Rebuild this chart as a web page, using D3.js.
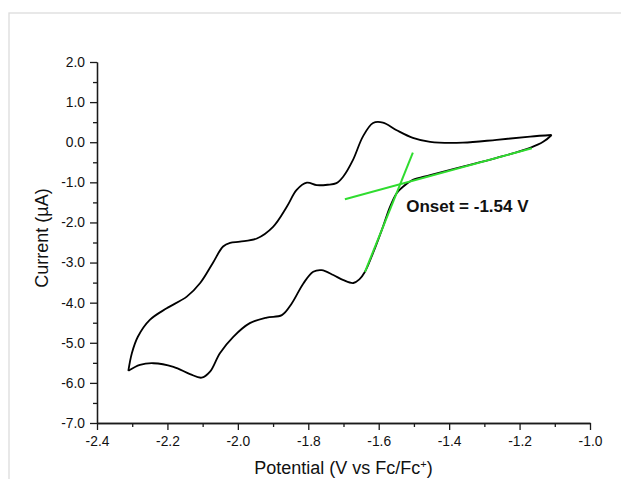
<!DOCTYPE html>
<html>
<head>
<meta charset="utf-8">
<script src="https://cdn.jsdelivr.net/npm/d3@7"></script>
<style>
  html, body { margin: 0; padding: 0; background: #fff; }
  svg { display: block; font-family: Arial, "Liberation Sans", sans-serif; }
</style>
</head>
<body>
<div id="chart"></div>
<script>
"use strict";

// forward scan, right vertex -> left vertex (potential V, current uA)
const upperScan = [
  [-1.109, 0.18], [-1.170, 0.14], [-1.265, 0.06], [-1.361, -0.01], [-1.454, 0.01],
  [-1.503, 0.11], [-1.549, 0.30], [-1.588, 0.49], [-1.616, 0.48], [-1.645, 0.14],
  [-1.673, -0.44], [-1.701, -0.86], [-1.720, -1.02], [-1.745, -1.06], [-1.776, -1.07],
  [-1.804, -1.01], [-1.833, -1.19], [-1.861, -1.61], [-1.900, -2.11], [-1.946, -2.40],
  [-1.994, -2.48], [-2.022, -2.51], [-2.042, -2.60], [-2.071, -3.01], [-2.107, -3.51],
  [-2.145, -3.85], [-2.202, -4.14], [-2.250, -4.43], [-2.284, -4.85], [-2.301, -5.26],
  [-2.311, -5.70]
];

// return scan, left vertex -> right vertex
const lowerScan = [
  [-2.311, -5.70], [-2.278, -5.55], [-2.240, -5.51], [-2.183, -5.60], [-2.136, -5.78],
  [-2.103, -5.87], [-2.079, -5.72], [-2.051, -5.26], [-2.013, -4.85], [-1.966, -4.51],
  [-1.918, -4.37], [-1.875, -4.31], [-1.847, -4.02], [-1.814, -3.52], [-1.786, -3.23],
  [-1.762, -3.19], [-1.729, -3.31], [-1.700, -3.44], [-1.672, -3.51], [-1.655, -3.42],
  [-1.639, -3.23], [-1.616, -2.76], [-1.588, -2.11], [-1.568, -1.61], [-1.549, -1.27],
  [-1.531, -1.11], [-1.503, -0.94], [-1.454, -0.82], [-1.361, -0.61], [-1.265, -0.39],
  [-1.170, -0.14], [-1.133, 0.01], [-1.109, 0.18]
];

// tangent lines used for the onset estimate
const baseLine = [[-1.696, -1.42], [-1.165, -0.15]];
const riseLine = [[-1.503, -0.26], [-1.639, -3.23]];

const xTicks = [-2.4, -2.2, -2.0, -1.8, -1.6, -1.4, -1.2, -1.0];
const xMinorTicks = [-2.3, -2.1, -1.9, -1.7, -1.5, -1.3, -1.1];
const yTicks = [2, 1, 0, -1, -2, -3, -4, -5, -6, -7];
const yMinorTicks = [1.5, 0.5, -0.5, -1.5, -2.5, -3.5, -4.5, -5.5, -6.5];

const onsetLabel = "Onset = -1.54 V";
const onsetAt = [-1.522, -1.73];

const msm = {
  width: 621,
  height: 479,
  marginLeft: 97,
  marginTop: 62,
  marginRight: 31,
  marginBottom: 56
};

const svg = d3.select("#chart")
  .append("svg")
  .attr("width", msm.width)
  .attr("height", msm.height);

// faint frame of the surrounding panel
svg.append("rect")
  .attr("x", 9)
  .attr("y", 13)
  .attr("width", 800)
  .attr("height", 800)
  .attr("fill", "none")
  .attr("stroke", "#dcdcdc")
  .attr("stroke-width", 1.3);

const xScale = d3.scaleLinear()
  .domain([-2.4, -1.0])
  .range([msm.marginLeft, msm.width - msm.marginRight]);

const yScale = d3.scaleLinear()
  .domain([-7, 2])
  .range([msm.height - msm.marginBottom, msm.marginTop]);

const fmt = d => d.toFixed(1);

// x axis: minor then major ticks
const xAxisG = svg.append("g")
  .attr("transform", "translate(0," + (msm.height - msm.marginBottom) + ")");
xAxisG.append("g")
  .call(d3.axisBottom(xScale).tickValues(xMinorTicks).tickSize(4).tickSizeOuter(0).tickFormat(""));
xAxisG.append("g")
  .call(d3.axisBottom(xScale).tickValues(xTicks).tickSize(7).tickSizeOuter(0).tickPadding(6).tickFormat(fmt));

// y axis
const yAxisG = svg.append("g")
  .attr("transform", "translate(" + msm.marginLeft + ",0)");
yAxisG.append("g")
  .call(d3.axisLeft(yScale).tickValues(yMinorTicks).tickSize(4).tickSizeOuter(0).tickFormat(""));
yAxisG.append("g")
  .call(d3.axisLeft(yScale).tickValues(yTicks).tickSize(7).tickSizeOuter(0).tickPadding(5).tickFormat(fmt));

svg.selectAll(".domain, .tick line")
  .attr("stroke", "#1a1a1a")
  .attr("stroke-width", 1.3);
svg.selectAll(".tick text")
  .attr("fill", "#111")
  .style("font-size", "13.8px")
  .style("font-family", "Arial, 'Liberation Sans', sans-serif");

// axis titles
svg.append("text")
  .attr("transform", "translate(48," + 238 + ") rotate(-90)")
  .attr("text-anchor", "middle")
  .style("font-size", "18px")
  .attr("fill", "#111")
  .text("Current (µA)");

// sits low like the original, but kept fully inside the page
const xTitle = svg.append("text")
  .attr("x", (xScale(-2.4) + xScale(-1.0)) / 2)
  .attr("y", 474)
  .attr("text-anchor", "middle")
  .style("font-size", "18px")
  .attr("fill", "#111");
xTitle.append("tspan").text("Potential (V vs Fc/Fc");
xTitle.append("tspan").attr("baseline-shift", "super").style("font-size", "11px").text("+");
xTitle.append("tspan").text(")");

const line = d3.line()
  .x(d => xScale(d[0]))
  .y(d => yScale(d[1]))
  .curve(d3.curveCatmullRom.alpha(0.5));

// voltammogram
[upperScan, lowerScan].forEach(scan => {
  svg.append("path")
    .datum(scan)
    .attr("d", line)
    .attr("fill", "none")
    .attr("stroke", "#000")
    .attr("stroke-width", 1.8)
    .attr("stroke-linejoin", "round");
});

// tangent lines
const straight = d3.line()
  .x(d => xScale(d[0]))
  .y(d => yScale(d[1]));

[baseLine, riseLine].forEach(seg => {
  svg.append("path")
    .datum(seg)
    .attr("d", straight)
    .attr("fill", "none")
    .attr("stroke", "#2fdc2f")
    .attr("stroke-width", 2);
});

svg.append("text")
  .attr("x", xScale(onsetAt[0]))
  .attr("y", yScale(onsetAt[1]))
  .style("font-size", "17px")
  .style("font-weight", "bold")
  .attr("fill", "#111")
  .text(onsetLabel);
</script>
</body>
</html>
